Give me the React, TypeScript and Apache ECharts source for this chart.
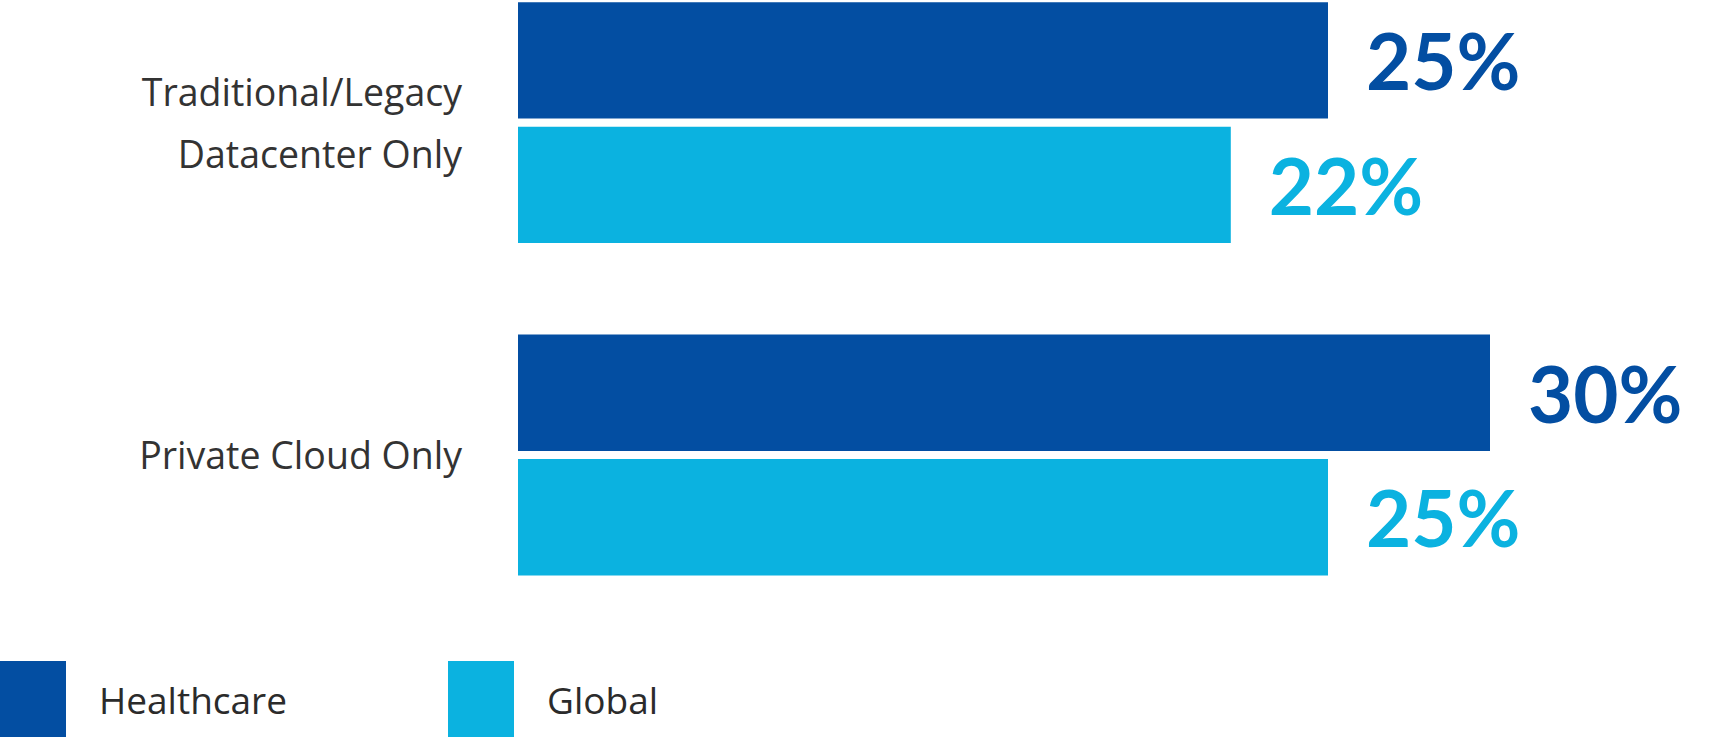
import React, { useEffect, useRef } from "react";
import * as echarts from "echarts";

const categories = ["Traditional/Legacy\nDatacenter Only", "Private Cloud Only"];
const seriesNames = ["Healthcare", "Global"];
const healthcareValues = [25, 30];
const globalValues = [22, 25];
const seriesColors = ["#034ea2", "#0bb2e0"];

export default function App() {
  const ref = useRef<HTMLDivElement>(null);

  useEffect(() => {
    document.body.style.margin = "0";
    if (!ref.current) return;
    const chart = echarts.init(ref.current, null, { renderer: "svg" });

    const valueLabel = (color: string) => ({
      show: true,
      position: "right",
      distance: 38,
      formatter: "{c}%",
      fontSize: 78,
      fontWeight: "bold",
      fontFamily: "Lato",
      color,
    });

    const legendBase = {
      orient: "horizontal",
      top: 661,
      padding: 0,
      itemWidth: 66,
      itemHeight: 76,
      itemGap: 0,
      icon: "rect",
      selectedMode: false,
      textStyle: {
        fontSize: 37,
        fontFamily: "Open Sans",
        color: "#2b2b2b",
        padding: [0, 0, 0, 28],
      },
    };

    chart.setOption({
      animation: false,
      backgroundColor: "#ffffff",
      legend: [
        { ...legendBase, left: 0, data: [seriesNames[0]] },
        { ...legendBase, left: 448, data: [seriesNames[1]] },
      ],
      grid: {
        left: 518,
        top: -43.5,
        width: 1134,
        height: 664.6,
        containLabel: false,
        outerBoundsMode: "none",
      },
      xAxis: {
        type: "value",
        min: 0,
        max: 35,
        show: false,
        splitLine: { show: false },
      },
      yAxis: {
        type: "category",
        data: categories,
        inverse: true,
        axisLine: { show: false },
        axisTick: { show: false },
        axisLabel: {
          margin: 56,
          fontSize: 37.5,
          lineHeight: 62,
          fontFamily: "Open Sans",
          color: "#333333",
          align: "right",
        },
      },
      series: [
        {
          name: seriesNames[0],
          type: "bar",
          data: healthcareValues,
          barWidth: 116.4,
          barGap: "7%",
          itemStyle: { color: seriesColors[0] },
          label: valueLabel(seriesColors[0]),
        },
        {
          name: seriesNames[1],
          type: "bar",
          data: globalValues,
          barWidth: 116.4,
          barGap: "7%",
          itemStyle: { color: seriesColors[1] },
          label: valueLabel(seriesColors[1]),
        },
      ],
    });

    return () => chart.dispose();
  }, []);

  return <div ref={ref} style={{ width: 1723, height: 738 }} />;
}
